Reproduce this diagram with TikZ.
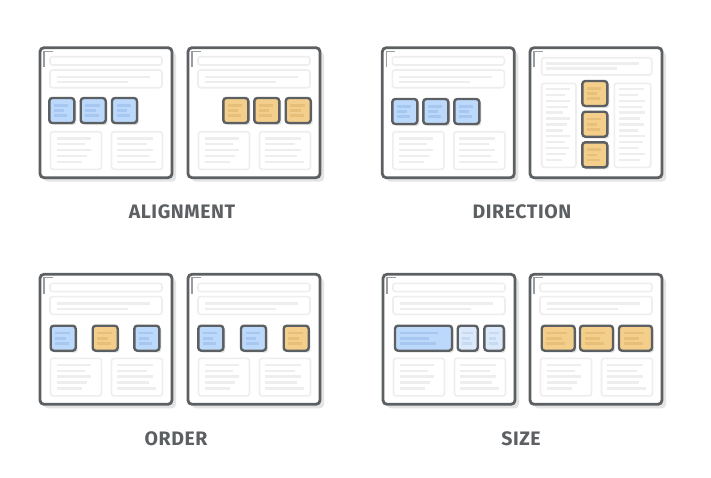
\documentclass[tikz,border=0pt]{standalone}
\usepackage{fontspec}
\setmainfont{Fira Sans}
\newfontfamily\captionfont[LetterSpace=3]{Fira Sans}
\definecolor{ink}{HTML}{5D6063}
\definecolor{frameshadow}{HTML}{E4E4E4}
\definecolor{ghost}{HTML}{EEEEEE}
\definecolor{cornermark}{HTML}{9A9C9E}
\definecolor{bluefill}{HTML}{BCD9FB}
\definecolor{blueline}{HTML}{A6C8F0}
\definecolor{paleblue}{HTML}{DCE9FA}
\definecolor{palebline}{HTML}{C6DAF2}
\definecolor{orangefill}{HTML}{F4CF8C}
\definecolor{orangeline}{HTML}{E8BF78}
\tikzset{
  caption/.style={text=ink, font=\captionfont\bfseries\fontsize{19.5}{19.5}\selectfont, inner sep=0pt},
  ghostbox/.style={draw=ghost, line width=1.6, rounded corners=2.5},
  ghostline/.style={draw=ghost, line width=2.4},
  % browser-like window outline with its drop shadow and corner mark
  pics/window/.style={code={
    \fill[frameshadow, rounded corners=4] (4,4) rectangle (136,134);
    \draw[ink, fill=white, line width=2.8, rounded corners=4] (0,0) rectangle (132,130);
    \draw[cornermark, line width=1.1] (4,19.5) -- (4,3.5) -- (13,3.5);
  }},
  % thin title bar and a wider header box with two text lines
  pics/header/.style={code={
    \draw[ghostbox] (10,9) rectangle (122,17.3);
    \draw[ghostbox] (10,22.3) rectangle (122,40);
    \draw[ghostline] (16.7,29.3) -- (110,29.3);
    \draw[ghostline] (16.7,34.5) -- (88,34.5);
  }},
  % two content panels at the bottom of the window
  pics/footer/.style={code={
    \draw[ghostbox] (10.5,84) rectangle (61.5,121.6);
    \draw[ghostbox] (71.5,84) rectangle (122.5,121.6);
    \foreach \y/\a/\b in {90.6/51/112.7, 96.4/45/106.7, 102.3/51/112.7, 108.2/46.7/109, 114.1/41.7/116}
      {\draw[ghostline] (16.7,\y) -- (\a,\y); \draw[ghostline] (77,\y) -- (\b,\y);}
  }},
  % coloured flex item: width, fill colour, stripe colour
  pics/tile/.style n args={3}{code={
    \fill[frameshadow, rounded corners=3] (2,2) rectangle (#1+2,27);
    \draw[ink, fill=#2, line width=2.4, rounded corners=3] (0,0) rectangle (#1,25);
    \draw[#3, line width=2.6] (4.5,7.4) -- ({0.76*#1},7.4);
    \draw[#3, line width=2.6] (4.5,12.5) -- ({0.6*#1},12.5);
    \draw[#3, line width=2.6] (4.5,17.6) -- ({0.72*#1},17.6);
  }},
}
\begin{document}
\begin{tikzpicture}[x=1pt, y=-1pt]
\useasboundingbox[fill=white] (0,0) rectangle (711,477);

% ---------------- alignment ----------------
\pic at (40,47.7) {window}; \pic at (40,47.7) {header}; \pic at (40,47.7) {footer};
\pic at (49.3,98) {tile={25}{bluefill}{blueline}};
\pic at (80.7,98) {tile={25}{bluefill}{blueline}};
\pic at (112,98) {tile={25}{bluefill}{blueline}};

\pic at (188,47.7) {window}; \pic at (188,47.7) {header}; \pic at (188,47.7) {footer};
\pic at (223.3,98) {tile={25}{orangefill}{orangeline}};
\pic at (254.3,98) {tile={25}{orangefill}{orangeline}};
\pic at (285.7,98) {tile={25}{orangefill}{orangeline}};

\node[caption] (alignment) at (182,211.5) {ALIGNMENT};

% ---------------- direction ----------------
\pic at (382.3,47.7) {window}; \pic at (382.3,47.7) {header}; \pic at (382.3,47.7) {footer};
\pic at (392.3,99) {tile={25}{bluefill}{blueline}};
\pic at (423.3,99) {tile={25}{bluefill}{blueline}};
\pic at (454.3,99) {tile={25}{bluefill}{blueline}};

\pic at (530,47.7) {window};
\begin{scope}[shift={(530,47.7)}]
  \draw[ghostbox] (11.7,10) rectangle (121.7,27.3);
  \draw[ghostline] (16,15.6) -- (109.3,15.6);
  \draw[ghostline] (16,20.8) -- (87.3,20.8);
  \draw[ghostbox] (11.7,35.6) rectangle (46,119.6);
  \draw[ghostbox] (84.3,35.6) rectangle (120.7,119.6);
  \foreach \i/\a/\b in {0/40/114, 1/35/108, 2/40/115, 3/38/112, 4/33/115, 5/40/110,
                        6/37/114, 7/33/108, 8/40/115, 9/35/113, 10/39/108, 11/36/115, 12/32/110}
    {\draw[ghostline] (16,41.3+5.9*\i) -- (\a,41.3+5.9*\i);
     \draw[ghostline] (89.3,41.3+5.9*\i) -- (\b,41.3+5.9*\i);}
\end{scope}
\pic at (582.3,81) {tile={25}{orangefill}{orangeline}};
\pic at (582.3,111.7) {tile={25}{orangefill}{orangeline}};
\pic at (582.3,142.3) {tile={25}{orangefill}{orangeline}};

\node[caption] (direction) at (522,211.5) {DIRECTION};

% ---------------- order ----------------
\pic at (40,274.3) {window}; \pic at (40,274.3) {header}; \pic at (40,274.3) {footer};
\pic at (50.7,325.7) {tile={25}{bluefill}{blueline}};
\pic at (92.7,325.7) {tile={25}{orangefill}{orangeline}};
\pic at (134.3,325.7) {tile={25}{bluefill}{blueline}};

\pic at (188,274.3) {window}; \pic at (188,274.3) {header}; \pic at (188,274.3) {footer};
\pic at (198.3,325.7) {tile={25}{bluefill}{blueline}};
\pic at (241,325.7) {tile={25}{bluefill}{blueline}};
\pic at (283.7,325.7) {tile={25}{orangefill}{orangeline}};

\node[caption] (order) at (176,439) {ORDER};

% ---------------- size ----------------
\pic at (383,274.3) {window}; \pic at (383,274.3) {header}; \pic at (383,274.3) {footer};
\pic at (395,325.7) {tile={57}{bluefill}{blueline}};
\pic at (457.7,325.7) {tile={20}{paleblue}{palebline}};
\pic at (484.3,325.7) {tile={19.5}{paleblue}{palebline}};

\pic at (530,274.3) {window}; \pic at (530,274.3) {header}; \pic at (530,274.3) {footer};
\pic at (541.7,325.7) {tile={33}{orangefill}{orangeline}};
\pic at (580,325.7) {tile={33}{orangefill}{orangeline}};
\pic at (619,325.7) {tile={33}{orangefill}{orangeline}};

\node[caption] (size) at (521,439) {SIZE};
\end{tikzpicture}
\end{document}
